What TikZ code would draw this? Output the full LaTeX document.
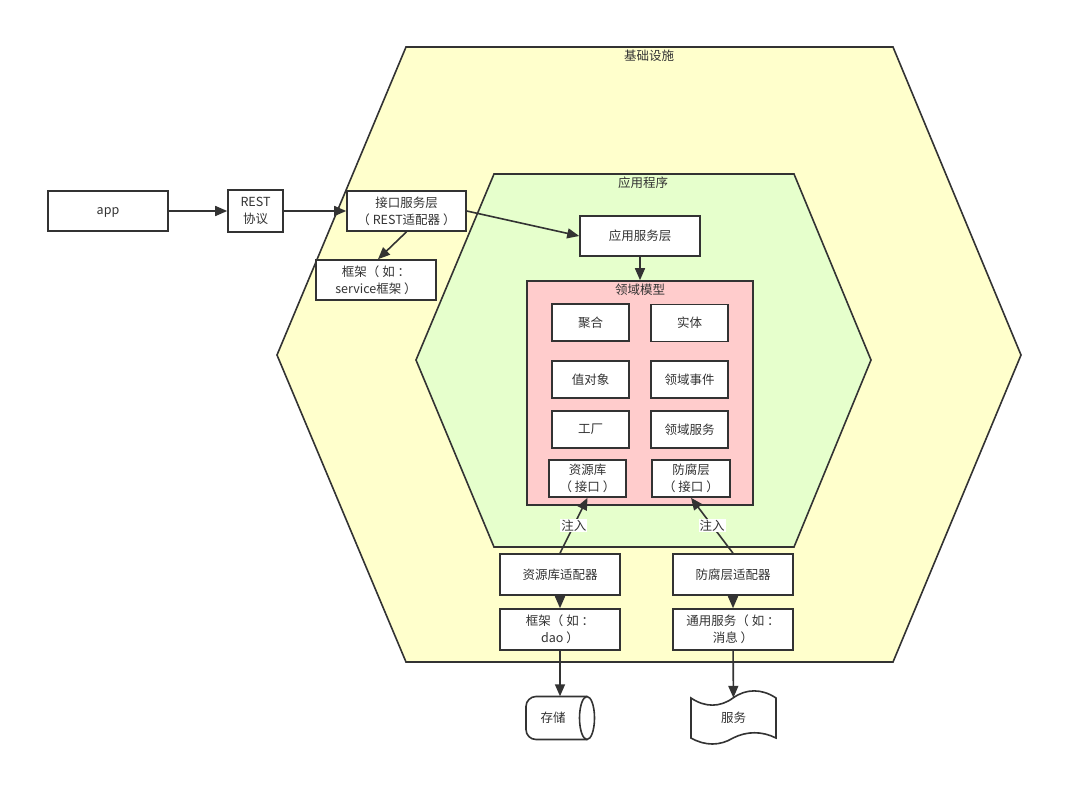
\documentclass[tikz,border=0pt]{standalone}
\usepackage{fontspec}
\setmainfont{Noto Sans CJK SC}
\usetikzlibrary{arrows, arrows.meta}
\usetikzlibrary{calc}
\definecolor{infra}{HTML}{FFFFCC}
\definecolor{appl}{HTML}{E6FFCC}
\definecolor{dom}{HTML}{FFCCCC}
\definecolor{ink}{HTML}{333333}

\begin{document}
\begin{tikzpicture}[x=1pt, y=-1pt,
    every node/.style={text=ink, font=\fontsize{12.5}{17}\selectfont},
    line/.style={draw=ink, line width=1.6pt},
    box/.style={line, fill=white, inner sep=0pt, align=center},
    arr/.style={draw=ink, line width=1.6pt, -{Triangle[length=12pt, width=10pt]}},
    title/.style={inner sep=0pt}]
      \useasboundingbox (0,0) rectangle (1084,806);

      % hexagons
      \draw[line, fill=infra] (406,47) -- (893,47) -- (1021,355) -- (893,662) -- (406,662) -- (277,355) -- cycle;
      \node[title] (infraname) at (649,56) {基础设施};
      \draw[line, fill=appl] (494,174) -- (794,174) -- (871,360) -- (794,547) -- (494,547) -- (416,360) -- cycle;
      \node[title] (applname) at (643,183) {应用程序};

      % domain model
      \node[line, fill=dom, minimum width=226, minimum height=224] (domain) at (640,393) {};
      \node[title] (domname) at (640,290) {领域模型};

      \node[box, minimum width=120, minimum height=40] (app) at (108,211) {\raisebox{-3pt}[0pt][0pt]{app}};
      \node[box, minimum width=55, minimum height=42] (rest) at (255.5,211) {REST\\协议};
      \node[box, minimum width=119, minimum height=40] (iface) at (406.5,211) {接口服务层\\（ REST适配器 ）};
      \node[box, minimum width=120, minimum height=40] (fw) at (376,280) {框架（ 如 ：\\service框架 ）};
      \node[box, minimum width=120, minimum height=40] (appsvc) at (640,236) {应用服务层};

      \node[box, minimum width=77, minimum height=37] (agg) at (590.5,322.5) {聚合};
      \node[box, minimum width=77, minimum height=37] (ent) at (689.5,323) {实体};
      \node[box, minimum width=77, minimum height=37] (vo) at (590.5,379.5) {值对象};
      \node[box, minimum width=77, minimum height=37] (evt) at (689.5,379.5) {领域事件};
      \node[box, minimum width=77, minimum height=37] (fac) at (590.5,429.5) {工厂};
      \node[box, minimum width=77, minimum height=37] (dsvc) at (689.5,429.5) {领域服务};
      \node[box, minimum width=77, minimum height=37] (repo) at (587.5,478.5) {资源库\\（ 接口 ）};
      \node[box, minimum width=78, minimum height=37] (acl) at (691,478.5) {防腐层\\（ 接口 ）};

      \node[box, minimum width=120, minimum height=41] (repoad) at (560,574.5) {资源库适配器};
      \node[box, minimum width=120, minimum height=41] (aclad) at (733,574.5) {防腐层适配器};
      \node[box, minimum width=120, minimum height=41] (dao) at (560,629.5) {框架（ 如 ：\\dao ）};
      \node[box, minimum width=120, minimum height=41] (msg) at (733,629.5) {通用服务（ 如 ：\\消息 ）};

      % storage and service shapes
      \draw[line, fill=white, rounded corners=10pt] (587,696.5) -- (526,696.5) -- (526,739.5) -- (587,739.5);
      \draw[line, fill=white] (587,718) ellipse (7.5 and 21.5);
      \node[title, minimum height=43] (store) at (553,718) {存储};
      \draw[line, fill=white] (691,698) .. controls (705,707.5) and (720,707.5) .. (733,698)
        .. controls (746,688.5) and (762,688.5) .. (776,698) -- (776,738)
        .. controls (762,731) and (747,731) .. (733,738)
        .. controls (720,746) and (705,746) .. (691,738) -- cycle;
      \node[title, minimum height=40] (svc) at (733.5,718) {服务};

      \draw[arr] (app) -- (rest);
      \draw[arr] (rest) -- (iface);
      \draw[arr] (iface.east) -- (appsvc.west);
      \draw[arr] (iface.south) -- ([xshift=2pt]fw.north);
      \draw[arr] (appsvc) -- (domain);
      \draw[arr] (repoad.north) -- node[fill=white, inner sep=1pt] {注入} (repo.south);
      \draw[arr] (aclad.north) -- node[fill=white, inner sep=1pt] {注入} (acl.south);
      \draw[arr] (repoad) -- (dao);
      \draw[arr] (aclad) -- (msg);
      \draw[arr] (dao.south) -- (dao.south |- store.north);
      \draw[arr] (msg) -- (svc);
\end{tikzpicture}
\end{document}
